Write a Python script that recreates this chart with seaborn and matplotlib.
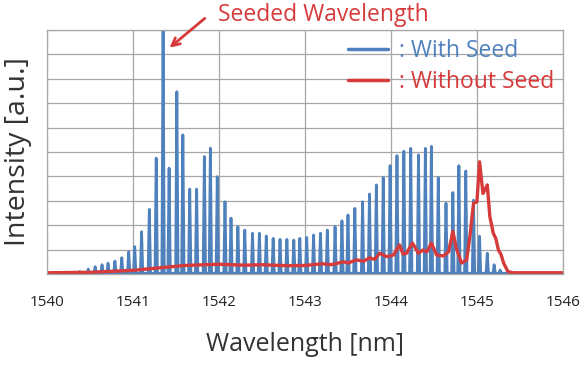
import numpy as np
import pandas as pd
import seaborn as sns
import matplotlib.pyplot as plt
from matplotlib.lines import Line2D

# pozycje i wysokosci pikow (z posiewem) [nm], [j.u.]
peak_nm = [1540.07, 1540.15, 1540.23, 1540.31, 1540.38, 1540.48, 1540.56, 1540.64, 1540.71, 1540.79,
           1540.87, 1540.95, 1541.02, 1541.10, 1541.19, 1541.27, 1541.35, 1541.42, 1541.51, 1541.58,
           1541.66, 1541.74, 1541.83, 1541.90, 1541.98, 1542.07, 1542.14, 1542.22, 1542.30, 1542.39,
           1542.47, 1542.55, 1542.63, 1542.71, 1542.79, 1542.87, 1542.94, 1543.02, 1543.10, 1543.18,
           1543.26, 1543.35, 1543.43, 1543.50, 1543.58, 1543.67, 1543.75, 1543.83, 1543.91, 1543.99,
           1544.07, 1544.15, 1544.23, 1544.32, 1544.40, 1544.47, 1544.55, 1544.64, 1544.72, 1544.79,
           1544.87, 1544.96, 1545.03, 1545.12, 1545.20, 1545.27, 1545.35]
peak_h = [0.02, 0.03, 0.05, 0.07, 0.10, 0.20, 0.30, 0.38, 0.44, 0.53,
          0.67, 0.91, 1.12, 1.73, 2.65, 4.75, 10.0, 4.34, 7.47, 5.70,
          3.48, 3.48, 4.81, 5.16, 3.99, 2.96, 2.29, 1.94, 1.80, 1.67,
          1.67, 1.56, 1.46, 1.42, 1.42, 1.39, 1.46, 1.50, 1.60, 1.67,
          1.80, 1.94, 2.18, 2.42, 2.69, 2.96, 3.28, 3.65, 3.95, 4.44,
          4.85, 5.03, 5.15, 4.88, 5.15, 5.23, 3.95, 2.90, 3.34, 4.44,
          4.22, 3.03, 1.55, 0.85, 0.38, 0.16, 0.05]
floor_h = 0.03

# widmo bez posiewu
red_nm = [1540.0, 1540.5, 1541.0, 1541.3, 1541.6, 1542.0, 1542.3, 1542.5, 1542.8, 1543.0,
          1543.2, 1543.3, 1543.45, 1543.5, 1543.6, 1543.68, 1543.75, 1543.81, 1543.87, 1543.95,
          1544.03, 1544.10, 1544.14, 1544.18, 1544.25, 1544.32, 1544.37, 1544.42, 1544.47, 1544.53,
          1544.61, 1544.67, 1544.72, 1544.76, 1544.82, 1544.88, 1544.92, 1544.96, 1545.00, 1545.03,
          1545.07, 1545.12, 1545.15, 1545.19, 1545.22, 1545.25, 1545.28, 1545.31, 1545.36, 1545.42,
          1546.0]
red_h = [0.05, 0.07, 0.15, 0.25, 0.35, 0.40, 0.36, 0.38, 0.34, 0.35,
         0.42, 0.38, 0.50, 0.45, 0.58, 0.52, 0.66, 0.60, 0.85, 0.71,
         0.78, 1.19, 0.82, 0.85, 1.27, 0.85, 0.98, 0.91, 1.27, 0.78,
         0.74, 0.91, 1.75, 1.06, 0.45, 0.57, 1.60, 2.90, 2.96, 4.60,
         3.30, 3.65, 2.35, 1.67, 1.45, 0.98, 0.80, 0.45, 0.10, 0.05,
         0.05]

blue = '#4f81bd'
red = '#d63a3a'

# budowa linii z pikow
half_w = 0.014
bx, by = [], []
for c, h in zip(peak_nm, peak_h):
    bx += [c - half_w, c, c + half_w]
    by += [floor_h, h, floor_h]
bx = [1540.0] + bx + [1546.0]
by = [floor_h] + by + [floor_h]
df_blue = pd.DataFrame({'nm': bx, 'val': by})
df_red = pd.DataFrame({'nm': red_nm, 'val': red_h})

sns.set_theme(style='whitegrid')
plt.rcParams['font.family'] = ['Open Sans', 'DejaVu Sans']

fig = plt.figure(figsize=(5.83, 3.65), dpi=100)
ax = fig.add_axes([0.0806, 0.2493, 0.885, 0.6685])

sns.lineplot(data=df_blue, x='nm', y='val', color=blue, lw=2.0, sort=False, estimator=None, ax=ax)
sns.lineplot(data=df_red, x='nm', y='val', color=red, lw=2.4, sort=False, estimator=None, ax=ax)

ax.set_xlim(1540, 1546)
ax.set_ylim(0, 10)
ax.set_xticks(range(1540, 1547))
ax.set_yticks(np.arange(0, 11, 1))
ax.set_yticklabels([])
ax.grid(True, color='#a6a6a6', lw=0.9)
for s in ax.spines.values():
    s.set_color('#a6a6a6')
    s.set_linewidth(0.9)
ax.tick_params(axis='x', length=4, color='#a6a6a6', labelsize=11, labelcolor='#222222', pad=11)
ax.tick_params(axis='y', length=0)
ax.set_xlabel('Wavelength [nm]', fontsize=18, color='#333333', labelpad=16)
ax.set_ylabel('Intensity [a.u.]', fontsize=20.5, color='#333333', labelpad=7)

# podpis i strzalka
ax.text(1543.21, 10.6, 'Seeded Wavelength', color=red, fontsize=16.5, ha='center', va='center', clip_on=False)
ax.annotate('', xy=(1541.40, 9.2), xytext=(1541.86, 10.55), annotation_clip=False,
            arrowprops=dict(arrowstyle='->', color=red, lw=2, mutation_scale=14))

# legenda
handles = [Line2D([], [], color=blue, lw=2.5), Line2D([], [], color=red, lw=2.5)]
leg = ax.legend(handles, [': With Seed', ': Without Seed'], loc='upper right', frameon=False,
                fontsize=16.5, handlelength=1.75, handletextpad=0.45, labelspacing=0.28,
                borderaxespad=0.0, bbox_to_anchor=(1.0, 1.0))
for t, c in zip(leg.get_texts(), [blue, red]):
    t.set_color(c)

fig.savefig('out.png', dpi=100)
